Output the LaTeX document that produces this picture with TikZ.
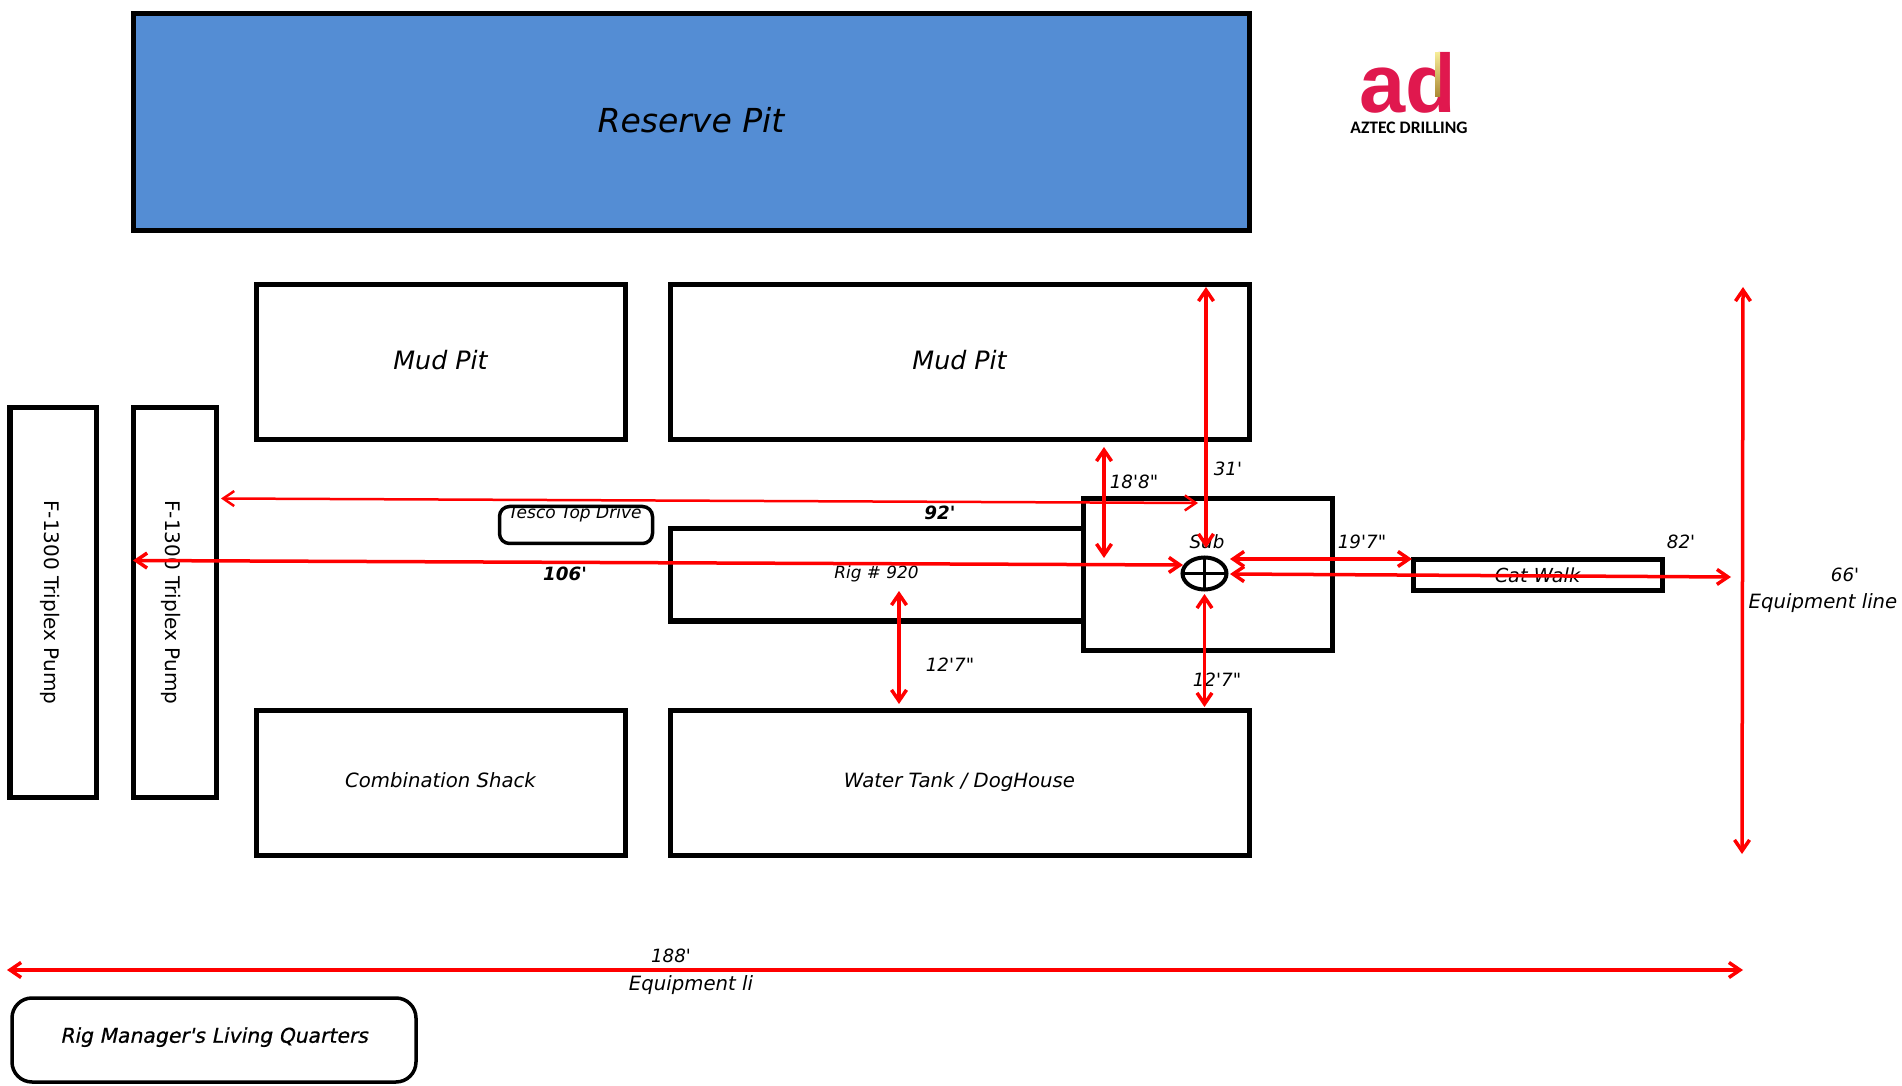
\documentclass[tikz,border=0pt]{standalone}
\usepackage{fontspec}
\setmainfont[Ligatures=TeXOff]{DejaVu Sans}
\newfontfamily\logofont{Liberation Sans}
\newfontfamily\logotext{Carlito}
\newfontfamily\quartersfont[FakeBold=0.6,FakeSlant=0.2]{DejaVu Sans}
\usepackage{tikz}
\usetikzlibrary{arrows.meta,shapes.geometric}
\definecolor{pitblue}{RGB}{84,141,212}
\definecolor{logored}{RGB}{224,24,78}
\definecolor{loggold}{RGB}{170,135,50}
\definecolor{logopale}{RGB}{245,235,150}
\definecolor{dimred}{RGB}{255,0,0}
\newcommand{\labelsize}[1]{\fontsize{#1}{#1}\selectfont}
\tikzstyle{box}=[draw, line width=0.05cm, inner sep=0pt, outer sep=0pt, align=center, text depth=0.05cm, font=\itshape\labelsize{5.6}]
\tikzstyle{box-round}=[box, rounded corners=0.1cm, line width=0.035cm]
\tikzstyle{box-pump}=[box, rotate=-90, text depth=0pt, text height=5pt, font=\labelsize{5.7}]
\tikzstyle{dim-label}=[inner sep=0pt, font=\itshape\labelsize{5.2}]
\tikzstyle{dim-bold}=[inner sep=0pt, font=\itshape\bfseries\labelsize{5.2}]
\tikzstyle{dim-line}=[<->, >={Straight Barb[length=1.1mm,width=1.5mm]}, dimred, line width=0.035cm]

\begin{document}
\begin{tikzpicture}
	\useasboundingbox (0,0) rectangle (19.02,-10.86);
	% nodes
	 \node [box, fill=pitblue, minimum width=11.16cm, minimum height=2.17cm, font=\itshape\labelsize{9.4}] (reserve) at (6.91,-1.225) {Reserve Pit};
	 \node [box, minimum width=3.69cm, minimum height=1.55cm, font=\itshape\labelsize{7.2}] (mudleft) at (4.405,-3.625) {Mud Pit};
	 \node [box, minimum width=5.79cm, minimum height=1.55cm, font=\itshape\labelsize{7.2}] (mudright) at (9.595,-3.625) {Mud Pit};
	 \node [box-pump, minimum width=3.89cm, minimum height=0.86cm] (pumpa) at (0.53,-6.025) {F-1300 Triplex Pump};
	 \node [box-pump, minimum width=3.89cm, minimum height=0.83cm] (pumpb) at (1.745,-6.025) {F-1300 Triplex Pump};
	 \node [box, minimum width=3.69cm, minimum height=1.45cm] (shack) at (4.405,-7.825) {Combination Shack};
	 \node [box, minimum width=5.79cm, minimum height=1.45cm] (tank) at (9.595,-7.825) {Water Tank / DogHouse};
	 \node [box, minimum width=4.13cm, minimum height=0.92cm, font=\itshape\labelsize{4.8}] (rig) at (8.765,-5.75) {Rig \# 920};
	 \node [box, minimum width=2.49cm, minimum height=1.52cm] (sub) at (12.075,-5.745) {};
	 \node [box, minimum width=2.49cm, minimum height=0.31cm, text depth=0pt, font=\itshape\labelsize{5.5}] (catwalk) at (15.375,-5.75) {Cat Walk};
	 \node [box-round, minimum width=1.53cm, minimum height=0.37cm] (tesco) at (5.76,-5.25) {};
	 \node [box-round, rounded corners=0.2cm, minimum width=4.04cm, minimum height=0.84cm, text depth=0.1cm, font=\quartersfont\labelsize{5.8}] (quarters) at (2.14,-10.40) {Rig Manager's Living Quarters};
	 \node [ellipse, draw, line width=0.04cm, inner sep=0pt, outer sep=0pt, minimum width=0.44cm, minimum height=0.32cm] (well) at (12.045,-5.735) {};
	 \draw [line width=0.03cm] (well.north) -- (well.south);
	 \draw [line width=0.03cm] (well.west) -- (well.east);

	 \node [dim-label, font=\itshape\labelsize{4.85}] (tescotext) at (5.75,-5.14) {Tesco Top Drive};
	 \node [dim-label] (subtext) at (12.07,-5.42) {Sub};
	 \node [dim-bold] (lab92) at (9.40,-5.13) {92'};
	 \node [dim-bold] (lab106) at (5.65,-5.74) {106'};
	 \node [dim-label] (lab188a) at (11.34,-4.82) {18'8"};
	 \node [dim-label] (lab31) at (12.28,-4.69) {31'};
	 \node [dim-label] (lab197) at (13.62,-5.42) {19'7"};
	 \node [dim-label] (lab82) at (16.81,-5.42) {82'};
	 \node [dim-label] (lab66) at (18.45,-5.75) {66'};
	 \node [dim-label, font=\itshape\labelsize{5.6}] (equipa) at (18.23,-6.03) {Equipment line};
	 \node [dim-label] (lab127a) at (9.50,-6.65) {12'7"};
	 \node [dim-label] (lab127b) at (12.17,-6.80) {12'7"};
	 \node [dim-label] (lab188) at (6.71,-9.56) {188'};
	 \node [dim-label, font=\itshape\labelsize{5.6}] (equipb) at (6.91,-9.85) {Equipment li};

	 % logo
	 \node [inner sep=0pt, text=logored, font=\logofont\bfseries\labelsize{23.6}] (logo) at (14.08,-0.83) {ad};
	 \node [inner sep=0pt, font=\logotext\bfseries\labelsize{5}] (logotitle) at (14.09,-1.275) {AZTEC DRILLING};
	 \shade [top color=logopale, bottom color=loggold] (14.35,-0.53) rectangle (14.40,-0.97);

	 % ends of the arrows
	 \coordinate (a92l) at (2.21,-4.985);
	 \coordinate (a92r) at (11.98,-5.03);
	 \coordinate (a106l) at (1.33,-5.605);
	 \coordinate (a106r) at (11.83,-5.65);
	 \coordinate (a188t) at (11.04,-4.47);
	 \coordinate (a188b) at (11.04,-5.58);
	 \coordinate (a31t) at (12.06,-2.87);
	 \coordinate (a31b) at (12.06,-5.48);
	 \coordinate (a127t) at (8.99,-5.91);
	 \coordinate (a127b) at (8.99,-7.04);
	 \coordinate (b127t) at (12.045,-5.94);
	 \coordinate (b127b) at (12.045,-7.07);
	 \coordinate (a197l) at (12.30,-5.59);
	 \coordinate (a197r) at (14.12,-5.59);
	 \coordinate (a82l) at (12.30,-5.74);
	 \coordinate (a82r) at (17.31,-5.77);
	 \coordinate (a66t) at (17.43,-2.87);
	 \coordinate (a66b) at (17.42,-8.54);
	 \coordinate (a188l) at (0.07,-9.70);
	 \coordinate (a188r) at (17.43,-9.70);

	 % arrows
	 \draw [dim-line, line width=0.025cm] (a92l) -- (a92r);
	 \draw [dim-line] (a106l) -- (a106r);
	 \draw [dim-line] (a188t) -- (a188b);
	 \draw [dim-line] (a31t) -- (a31b);
	 \draw [dim-line] (a127t) -- (a127b);
	 \draw [dim-line] (b127t) -- (b127b);
	 \draw [dim-line] (a197l) -- (a197r);
	 \draw [dim-line] (a82l) -- (a82r);
	 \draw [dim-line] (a66t) -- (a66b);
	 \draw [dim-line] (a188l) -- (a188r);
\end{tikzpicture}
\end{document}
